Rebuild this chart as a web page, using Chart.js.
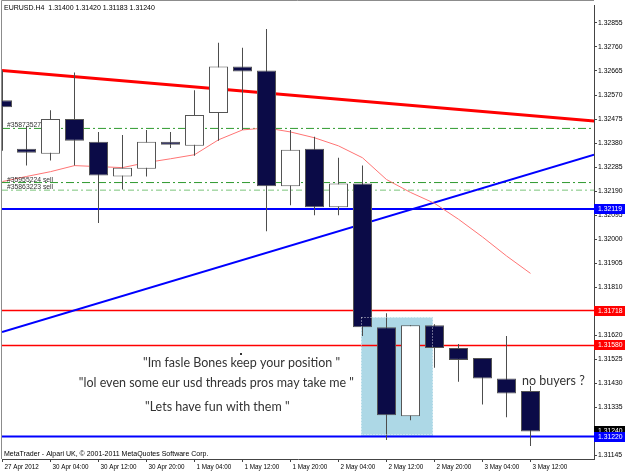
<!DOCTYPE html>
<html>
<head>
<meta charset="utf-8">
<script src="https://cdn.jsdelivr.net/npm/chart.js@4.4.0/dist/chart.umd.min.js"></script>
<style>
  html, body { margin: 0; padding: 0; background: #fff; }
  #wrap { width: 625px; height: 475px; }
</style>
</head>
<body>
<div id="wrap"><canvas id="chart" width="625" height="475"></canvas></div>
<script>
// EURUSD H4 bars, 27 Apr 20:00 .. 3 May 12:00
const symbol = 'EURUSD.H4';
const open  = [1.32549, 1.32358, 1.32338, 1.32475, 1.32385, 1.32248, 1.32279, 1.32385, 1.32369, 1.32499, 1.32683, 1.32667,
               1.32209, 1.32358, 1.32126, 1.32220, 1.31652, 1.31300, 1.31660, 1.31570, 1.31531, 1.31449, 1.31400];
const high  = [1.32667, 1.32448, 1.32510, 1.32659, 1.32424, 1.32412, 1.32432, 1.32424, 1.32589, 1.32777, 1.32757, 1.32831,
               1.32432, 1.32405, 1.32322, 1.32291, 1.31707, 1.31660, 1.31664, 1.31586, 1.31531, 1.31617, 1.31420];
const low   = [1.32350, 1.32291, 1.32311, 1.32291, 1.32064, 1.32197, 1.32248, 1.32361, 1.32330, 1.32389, 1.32432, 1.32032,
               1.32134, 1.32095, 1.32095, 1.31617, 1.31206, 1.31284, 1.31492, 1.31437, 1.31347, 1.31296, 1.31183];
const close = [1.32522, 1.32342, 1.32475, 1.32389, 1.32252, 1.32283, 1.32385, 1.32373, 1.32491, 1.32683, 1.32663, 1.32209,
               1.32354, 1.32126, 1.32220, 1.31652, 1.31304, 1.31660, 1.31570, 1.31523, 1.31449, 1.31390, 1.31240];
// thin red moving average
const maValues = [1.32228, 1.32248, 1.32267, 1.32291, 1.32287, 1.32283, 1.32303, 1.32318, 1.32334, 1.32393, 1.32432, 1.32440,
                  1.32424, 1.32401, 1.32369, 1.32322, 1.32236, 1.32185, 1.32142, 1.32079, 1.32009, 1.31934, 1.31865];

const tickBars   = [0, 2, 4, 6, 8, 10, 12, 14, 16, 18, 20, 22];
const tickLabels = ['27 Apr 2012', '30 Apr 04:00', '30 Apr 12:00', '30 Apr 20:00', '1 May 04:00', '1 May 12:00',
                    '1 May 20:00', '2 May 04:00', '2 May 12:00', '2 May 20:00', '3 May 04:00', '3 May 12:00'];
const priceTicks = [1.31145, 1.31240, 1.31335, 1.31430, 1.31525, 1.31620, 1.31715, 1.31810, 1.31905, 1.32000,
                    1.32095, 1.32190, 1.32285, 1.32380, 1.32475, 1.32570, 1.32665, 1.32760, 1.32855];

// objects on the chart
const redTrendBars = [-0.02, 24.65];
const redTrendPrices = [1.32667, 1.32467];
const blueTrendBars = [-0.02, 24.65];
const blueTrendPrices = [1.31633, 1.32334];
const blueLevels = [1.32119, 1.31220];
const redLevels = [1.31718, 1.31580];
const orderLevels = [1.32438, 1.32224, 1.32194];
const orderNames = ['#35873527', '#35955224 sell', '#35863223 sell'];
const boxBars = [14.94, 17.94];
const boxPrices = [1.31692, 1.31220];

const xMin = -0.0208, xMax = 24.646;
const yMin = 1.311313, yMax = 1.329255;

const navy = '#0b0b47';
const bars = open.map((_, i) => i);
const last = bars.length - 1;

const level = p => [{x: xMin, y: p}, {x: xMax, y: p}];
const lineDs = (data, color, width, order, dash) => ({
    type: 'line', data, borderColor: color, borderWidth: width, borderDash: dash || [],
    pointRadius: 0, tension: 0, fill: false, order
});

const datasets = [
    {
        type: 'line',
        data: [{x: boxBars[0], y: boxPrices[0]}, {x: boxBars[1], y: boxPrices[0]}],
        borderWidth: 0, pointRadius: 0, backgroundColor: '#add8e6',
        fill: {value: boxPrices[1]}, order: 20
    },
    ...blueLevels.map(p => lineDs(level(p), '#0000ff', 2, 15)),
    ...redLevels.map(p => lineDs(level(p), '#ff0000', 1.5, 15)),
    lineDs(level(orderLevels[0]), '#2f9a2f', 1, 14, [8, 3, 2, 3]),
    lineDs(level(orderLevels[1]), '#2f9a2f', 1, 14, [8, 3, 2, 3]),
    lineDs(level(orderLevels[2]), '#7cc47c', 1, 14, [6, 3, 2, 3]),
    lineDs(redTrendBars.map((b, k) => ({x: b, y: redTrendPrices[k]})), '#ff0000', 3, 12),
    lineDs(blueTrendBars.map((b, k) => ({x: b, y: blueTrendPrices[k]})), '#0000ff', 2, 12),
    lineDs(maValues.map((v, i) => ({x: i, y: v})), '#ff7474', 1, 11),
    {
        type: 'bar',
        data: bars.map(i => ({x: i, y: [low[i], high[i]]})),
        barThickness: 1, backgroundColor: '#4d4d4d', borderWidth: 0, inflateAmount: 0,
        grouped: false, clip: 0, order: 2
    },
    {
        type: 'bar',
        data: bars.map(i => ({x: i, y: [open[i], close[i]]})),
        barThickness: 19,
        backgroundColor: bars.map(i => close[i] < open[i] ? navy : '#ffffff'),
        borderColor: '#555555', borderWidth: 1, borderSkipped: false, inflateAmount: 0,
        grouped: false, clip: 0, order: 1
    }
];

const sans = '"Liberation Sans", Arial, sans-serif';

const overlay = {
    id: 'overlay',
    afterDatasetsDraw(chart) {
        const {ctx, scales: {y}, chartArea: a} = chart;
        ctx.save();
        ctx.beginPath();
        ctx.rect(a.left, a.top, a.right - a.left, a.bottom - a.top);
        ctx.clip();

        // dotted edge of the highlight box
        const bx0 = chart.scales.x.getPixelForValue(boxBars[0]);
        const bx1 = chart.scales.x.getPixelForValue(boxBars[1]);
        const by0 = y.getPixelForValue(boxPrices[0]);
        const by1 = y.getPixelForValue(boxPrices[1]);
        ctx.strokeStyle = 'rgba(255,255,255,0.8)';
        ctx.setLineDash([1, 2]);
        ctx.lineWidth = 1;
        ctx.strokeRect(Math.round(bx0) + 0.5, Math.round(by0) + 0.5, Math.round(bx1 - bx0) - 1, Math.round(by1 - by0) - 2);
        ctx.setLineDash([]);

        // order labels
        ctx.font = '6.8px ' + sans;
        ctx.fillStyle = '#333';
        ctx.textBaseline = 'alphabetic';
        orderLevels.forEach((p, k) => ctx.fillText(orderNames[k], 7, y.getPixelForValue(p) - 1));

        // notes
        ctx.font = '12.5px Lato, "Open Sans", sans-serif';
        ctx.fillStyle = '#333';
        ctx.textBaseline = 'middle';
        ctx.textAlign = 'left';
        ctx.fillText('"Im fasle Bones keep your position "', 143, 363);
        ctx.textAlign = 'right';
        ctx.fillText('"lol even some eur usd threads pros may take me "', 354, 383);
        ctx.textAlign = 'left';
        ctx.fillText('"Lets have fun with them "', 145, 407);
        ctx.fillText('no buyers ?', 522, 381);
        ctx.fillRect(240, 353, 2, 2);

        // header and copyright
        ctx.font = '7px ' + sans;
        ctx.fillStyle = '#000';
        const ohlc = [open[last], high[last], low[last], close[last]].map(v => v.toFixed(5)).join(' ');
        ctx.fillText(symbol + '  ' + ohlc, 4, 8);
        ctx.fillText('MetaTrader - Alpari UK, \u00a9 2001-2011 MetaQuotes Software Corp.', 4, 454);
        ctx.restore();
    },
    afterDraw(chart) {
        const {ctx, scales: {y}, chartArea: a} = chart;
        ctx.save();
        // frame
        ctx.strokeStyle = '#8c8c8c';
        ctx.lineWidth = 1;
        ctx.beginPath();
        ctx.moveTo(1.5, a.bottom);
        ctx.lineTo(1.5, 0.5);
        ctx.lineTo(a.right, 0.5);
        ctx.stroke();

        // price marks on the axis
        const marks = [
            {p: close[last], c: '#000000'},
            {p: blueLevels[0], c: '#0000ff'},
            {p: redLevels[0], c: '#ff0000'},
            {p: redLevels[1], c: '#ff0000'},
            {p: blueLevels[1], c: '#0000ff'}
        ];
        ctx.font = '6.8px ' + sans;
        ctx.textBaseline = 'middle';
        marks.forEach(m => {
            const py = Math.round(y.getPixelForValue(m.p));
            ctx.fillStyle = m.c;
            ctx.fillRect(a.right, py - 5, chart.width - a.right, 10);
            ctx.fillStyle = '#fff';
            ctx.fillText(m.p.toFixed(5), a.right + 4, py);
        });
        ctx.restore();
    }
};

new Chart(document.getElementById('chart'), {
    type: 'bar',
    data: {datasets},
    options: {
        responsive: false,
        devicePixelRatio: 1,
        animation: false,
        layout: {padding: {left: 2, top: 1, right: 0, bottom: 0}},
        plugins: {legend: {display: false}, tooltip: {enabled: false}},
        scales: {
            x: {
                type: 'linear', min: xMin, max: xMax, offset: false,
                afterBuildTicks: s => { s.ticks = tickBars.map(v => ({value: v})); },
                afterFit: s => { s.height = 16; },
                border: {color: '#444'},
                grid: {drawOnChartArea: false, offset: false, tickLength: 3, color: '#444'},
                ticks: {
                    align: 'start', labelOffset: 2, padding: 1, maxRotation: 0, autoSkip: false,
                    font: {family: sans, size: 6.3}, color: '#000',
                    callback: (v, i) => tickLabels[i]
                }
            },
            y: {
                position: 'right', min: yMin, max: yMax,
                afterBuildTicks: s => { s.ticks = priceTicks.map(v => ({value: v})); },
                afterFit: s => { s.width = 31; },
                border: {color: '#444'},
                grid: {drawOnChartArea: false, tickLength: 3, color: '#444'},
                ticks: {
                    padding: 1, font: {family: sans, size: 6.8}, color: '#000',
                    callback: v => v.toFixed(5)
                }
            }
        }
    },
    plugins: [overlay]
});
</script>
</body>
</html>
